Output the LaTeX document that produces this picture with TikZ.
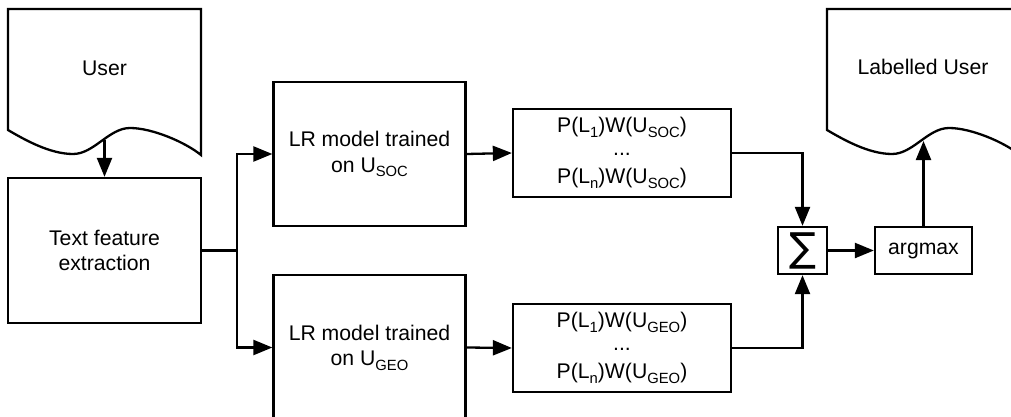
\documentclass[tikz,border=0pt]{standalone}
\usepackage{fontspec}
\setmainfont{Liberation Sans}
\newfontfamily\symfont{DejaVu Sans}
\usetikzlibrary{arrows.meta}
\newcommand\lowtext[1]{\raisebox{-0.22em}{\fontsize{14.8}{14.8}\selectfont #1}}
\tikzset{
  box/.style={draw, line width=2.3pt, minimum width=#1, inner sep=0pt, align=center, fill=white},
  conn/.style={line width=2.3pt, -{Triangle[length=19pt,width=15pt]}},
  doc/.style={draw, line width=2.3pt, fill=white},
}
\begin{document}
\begin{tikzpicture}[x=1pt, y=-1pt, font=\fontsize{21.2}{25.5}\selectfont]
\useasboundingbox (0,0) rectangle (1011,417);
\clip (0,0) rectangle (1011,417);

% input document
\draw[doc] (8,9) -- (201,9) -- (201,155)
  .. controls (185,142) and (152,128) .. (130,128)
  .. controls (109,128) and (94,154) .. (73,154)
  .. controls (50,154) and (25,140) .. (8,130) -- cycle;
\node (user) at (104.5,68) {User};
\coordinate (ubot) at (104.5,140);

% output document
\draw[doc] (827,9) -- (1020,9) -- (1020,155)
  .. controls (1004,142) and (971,128) .. (949,128)
  .. controls (928,128) and (913,154) .. (892,154)
  .. controls (869,154) and (844,140) .. (827,130) -- cycle;
\node (labelled) at (923,67) {Labelled User};
\coordinate (lbot) at (923.5,141);

% processing boxes
\node[box=193pt, minimum height=145pt] (tfe) at (104.5,250.5) {Text feature\\extraction};
\node[box=192pt, minimum height=144pt] (lr1) at (369.5,154) {LR model trained\\on U\lowtext{SOC}};
\node[box=192pt, minimum height=145pt] (lr2) at (369.5,347.5) {LR model trained\\on U\lowtext{GEO}};
\node[box=218pt, minimum height=88pt] (p1) at (622,153)
  {P(L\lowtext{1})W(U\lowtext{SOC})\\[-3pt]...\\[3pt]P(L\lowtext{n})W(U\lowtext{SOC})};
\node[box=218pt, minimum height=88pt] (p2) at (622,348)
  {P(L\lowtext{1})W(U\lowtext{GEO})\\[-3pt]...\\[3pt]P(L\lowtext{n})W(U\lowtext{GEO})};
\node[box=49pt, minimum height=47pt] (sum) at (802.5,250.5) {\symfont\fontsize{40}{40}\selectfont ∑};
\node[box=97pt, minimum height=47pt] (argmax) at (923.5,250.5) {argmax};

\coordinate (split) at (237,250.5);

% connectors
\draw[conn] (ubot) -- (tfe.north);
\draw[line width=2.3pt] (tfe.east) -- (split);
\draw[conn] (split) |- (lr1.west);
\draw[conn] (split) |- (lr2.west);
\draw[conn] (lr1.east) -- (p1.west);
\draw[conn] (lr2.east) -- (p2.west);
\draw[conn] (p1.east) -| (sum.north);
\draw[conn] (p2.east) -| (sum.south);
\draw[conn] (sum.east) -- (argmax.west);
\draw[conn] (argmax.north) -- (lbot);
\end{tikzpicture}
\end{document}
